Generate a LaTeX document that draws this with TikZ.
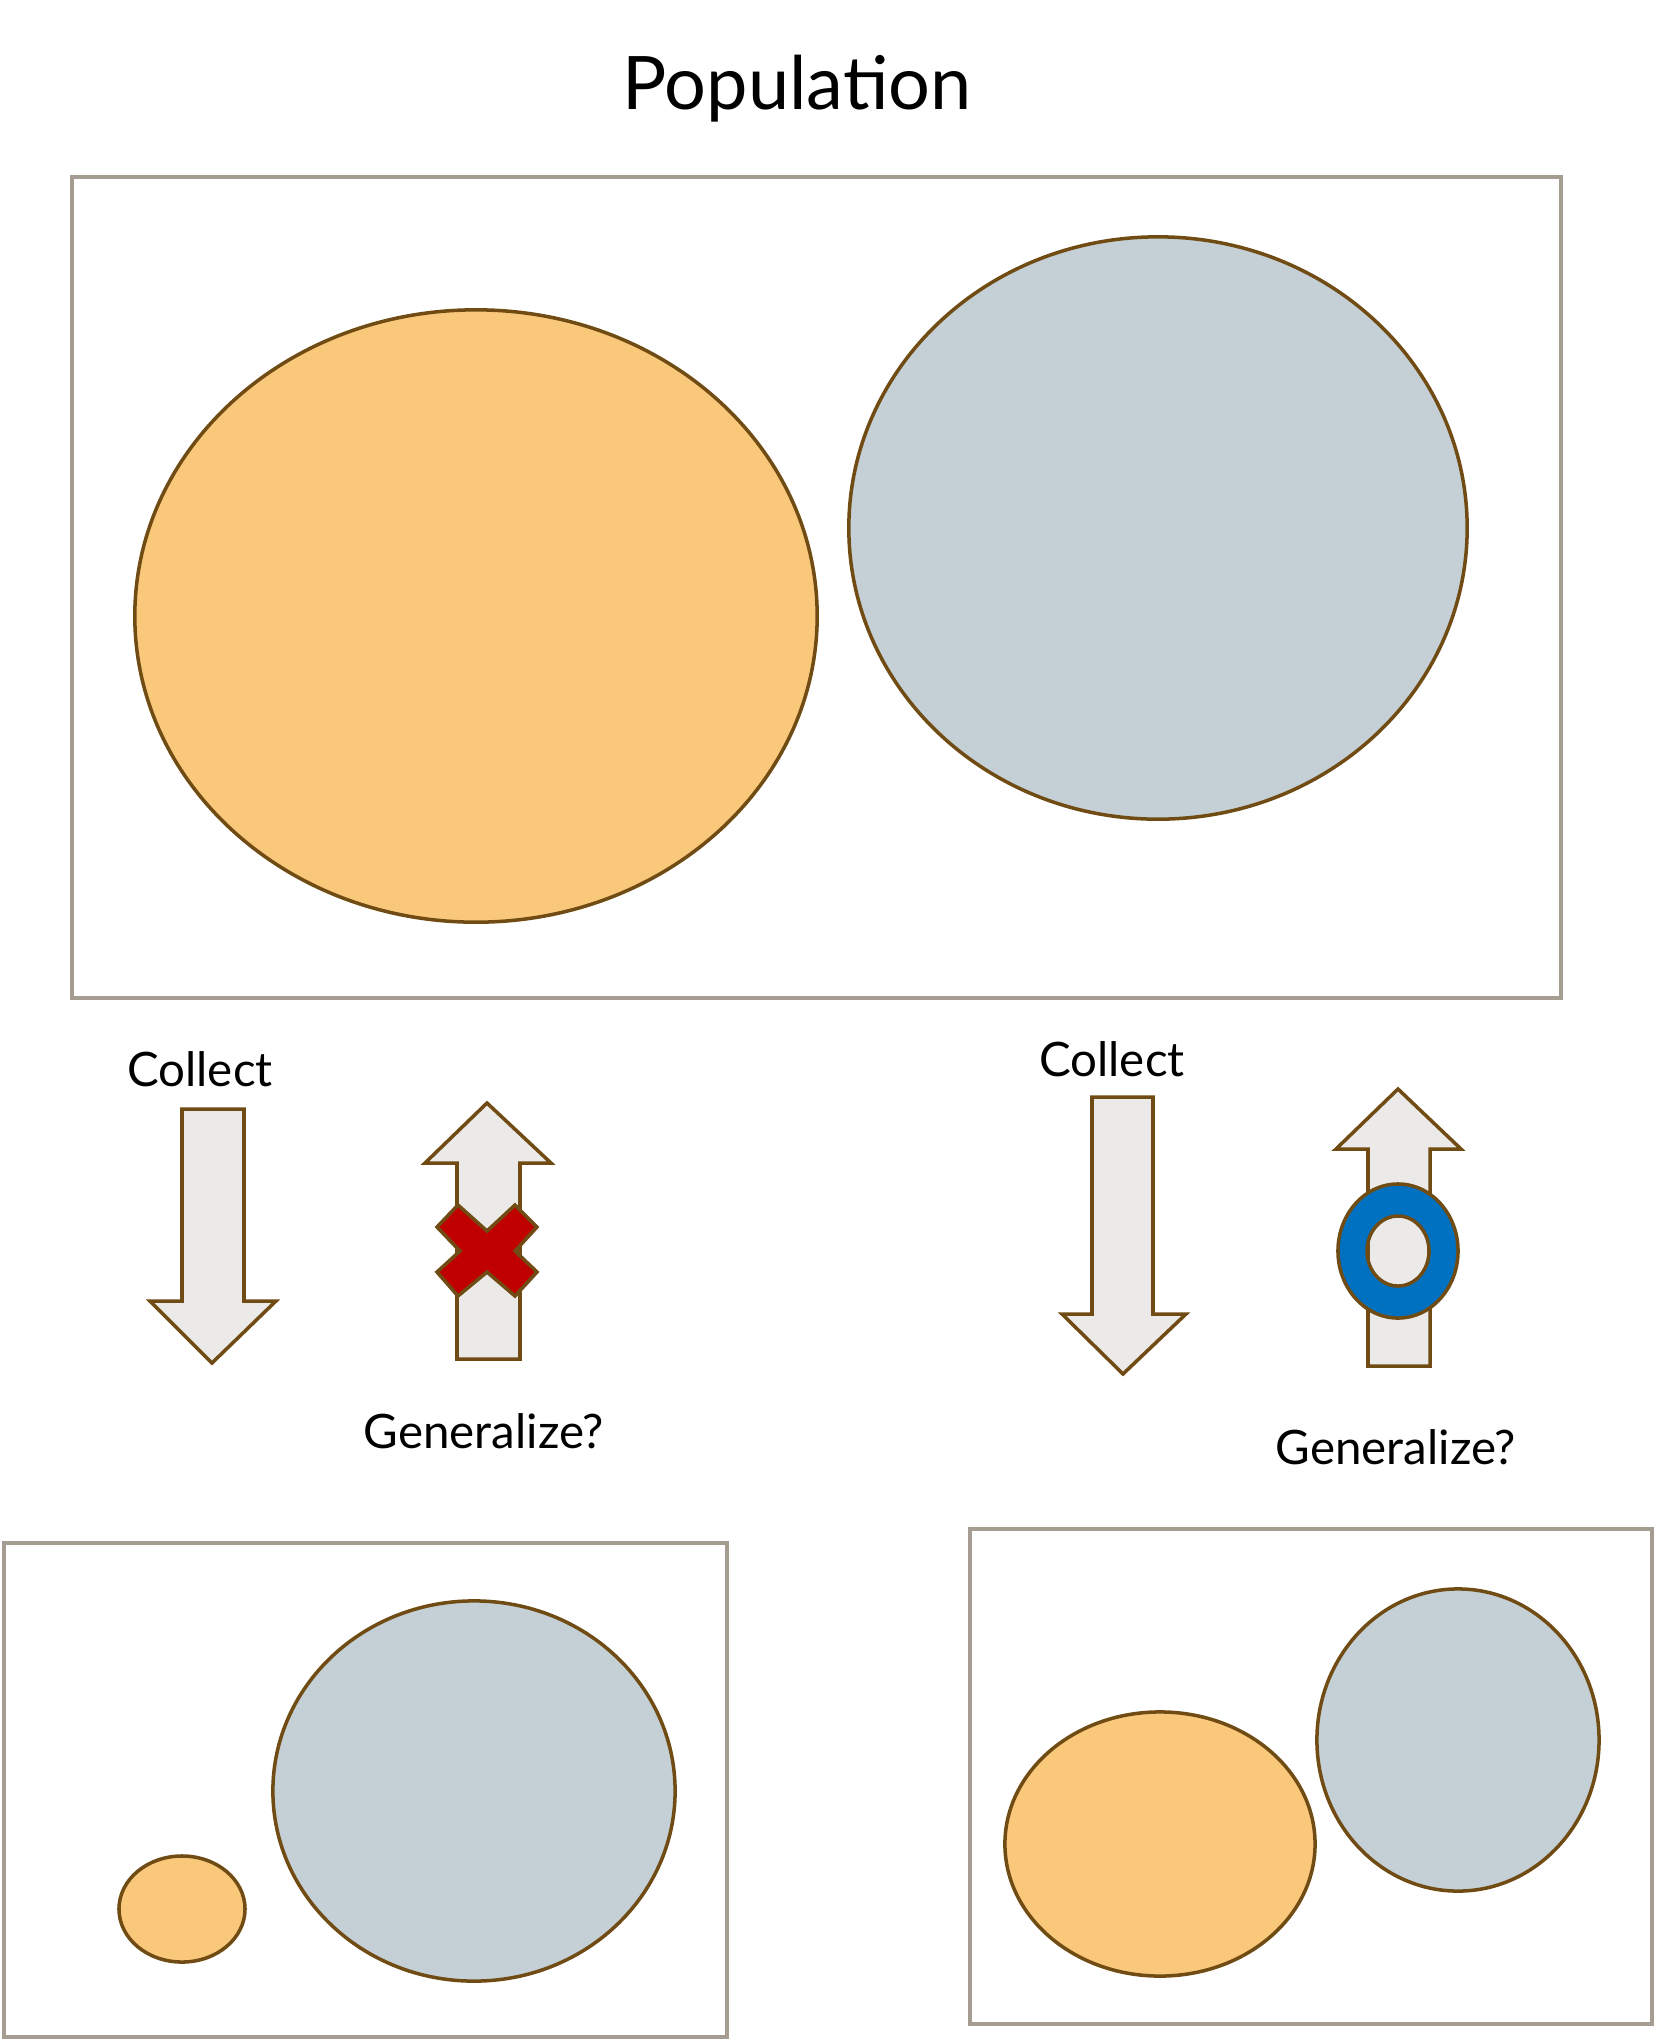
\documentclass[tikz,border=0pt]{standalone}
\usepackage{fontspec}
\setmainfont{Lato}
\usetikzlibrary{calc}

\definecolor{boxgray}{RGB}{166,157,146}
\definecolor{rimbrown}{RGB}{112,76,20}
\definecolor{orangefill}{RGB}{249,200,122}
\definecolor{bluefill}{RGB}{196,208,213}
\definecolor{arrowfill}{RGB}{236,234,232}
\definecolor{crossred}{RGB}{192,0,0}
\definecolor{ringblue}{RGB}{0,112,192}

\tikzset{
  popbox/.style={draw=boxgray,line width=1.1pt},
  blob/.style={draw=rimbrown,line width=1pt},
  bigarrow/.style={draw=rimbrown,fill=arrowfill,line width=1pt,line join=miter},
  lbl/.style={inner sep=0pt,font=\fontsize{13.5}{16}\selectfont}
}

\begin{document}
\begin{tikzpicture}[x=0.01cm,y=-0.01cm]
    \useasboundingbox (0,0) rectangle (1659,2044);
    % population
    \node[inner sep=0pt,font=\fontsize{21}{25}\selectfont] (title) at (797,89) {Population};
    \draw[popbox] (72,177) rectangle (1561,998);
    \draw[blob,fill=orangefill] (476,616) ellipse [x radius=3.41cm,y radius=3.06cm];
    \draw[blob,fill=bluefill] (1158,528) ellipse [x radius=3.09cm,y radius=2.91cm];
    % left sample
    \node[lbl] (collectL) at (200,1069) {Collect};
    \draw[bigarrow] (182,1109) -- (244,1109) -- (244,1301) -- (276,1301) -- (212,1363) -- (150,1301) -- (182,1301) -- cycle;
    \draw[bigarrow] (457,1359) -- (520,1359) -- (520,1163) -- (551,1163) -- (487,1103) -- (425,1163) -- (457,1163) -- cycle;
    \draw[draw=rimbrown,fill=crossred,line width=1pt,shift={(487,1251)}]
        (-29,-46) -- (0,-20) -- (28,-46) -- (50,-24) -- (28,0) -- (50,21) -- (28,45)
        -- (0,21) -- (-29,45) -- (-50,21) -- (-27,0) -- (-50,-24) -- cycle;
    \node[lbl] (generalizeL) at (484,1431) {Generalize?};
    \draw[popbox] (4,1543) rectangle (727,2037);
    \draw[blob,fill=orangefill] (182,1909) ellipse [x radius=0.63cm,y radius=0.53cm];
    \draw[blob,fill=bluefill] (474,1791) ellipse [x radius=2.01cm,y radius=1.90cm];
    % right sample
    \node[lbl] (collectR) at (1112,1059) {Collect};
    \draw[bigarrow] (1092,1097) -- (1153,1097) -- (1153,1314) -- (1186,1314) -- (1123,1374) -- (1062,1314) -- (1092,1314) -- cycle;
    \draw[bigarrow] (1368,1366) -- (1430,1366) -- (1430,1149) -- (1461,1149) -- (1398,1089) -- (1336,1149) -- (1368,1149) -- cycle;
    \draw[draw=rimbrown,fill=ringblue,even odd rule,line width=1pt]
        (1398,1251) ellipse [x radius=0.60cm,y radius=0.67cm]
        (1398,1251) ellipse [x radius=0.31cm,y radius=0.35cm];
    \node[lbl] (generalizeR) at (1396,1447) {Generalize?};
    \draw[popbox] (970,1529) rectangle (1652,2024);
    \draw[blob,fill=orangefill] (1160,1844) ellipse [x radius=1.55cm,y radius=1.32cm];
    \draw[blob,fill=bluefill] (1458,1740) ellipse [x radius=1.41cm,y radius=1.51cm];
\end{tikzpicture}
\end{document}
